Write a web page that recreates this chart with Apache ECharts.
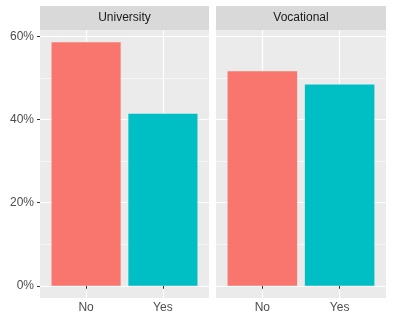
<!doctype html>
<html lang="en">
<head>
<meta charset="UTF-8">
<title>Facet bars</title>
<script src="https://cdn.jsdelivr.net/npm/echarts@6/dist/echarts.min.js"></script>
</head>
<body style="margin:0;background:#fff">
<div id="chart" style="width:393px;height:324px;"></div>
<script type="text/javascript">
// data
const facets = ['University', 'Vocational'];
const answers = ['No', 'Yes'];
const university = [58.6, 41.4];
const vocational = [51.6, 48.4];
const yTicks = [0, 20, 40, 60];
const xTicks = [1, 2];
const fillColors = ['#F8766D', '#00BFC4'];

const panelValues = [university, vocational];
const font = 'Liberation Sans, Arial, sans-serif';

// ggplot-like expansion
const yMax = Math.max(...university, ...vocational);
const yMinExt = -0.05 * yMax;
const yMaxExt = yMax * 1.05;

const panels = [
    {left: 40, width: 169},
    {left: 216, width: 170}
];
const panelTop = 30, panelHeight = 268;

let grids = [], xAxes = [], yAxes = [], series = [], graphics = [];
panels.forEach(function (p, i) {
    grids.push({
        left: p.left, top: panelTop, width: p.width, height: panelHeight,
        show: true, backgroundColor: '#EBEBEB', borderWidth: 0
    });
    xAxes.push({
        type: 'value', gridIndex: i, min: 0.4, max: 2.6,
        minInterval: 1, maxInterval: 1,
        axisLine: {show: false},
        axisTick: {show: true, length: 3, customValues: xTicks, lineStyle: {color: '#333333', width: 1}},
        axisLabel: {
            customValues: xTicks, margin: 4, color: '#4D4D4D', fontSize: 12, fontFamily: font,
            formatter: function (v) { return answers[Math.round(v) - 1] || ''; }
        },
        splitLine: {show: true, lineStyle: {color: '#FFFFFF', width: 1.2}}
    });
    yAxes.push({
        type: 'value', gridIndex: i, min: yMinExt, max: yMaxExt,
        minInterval: 20, maxInterval: 20,
        axisLine: {show: false},
        axisTick: {show: i === 0, length: 3, customValues: yTicks, lineStyle: {color: '#333333', width: 1}},
        axisLabel: {
            show: i === 0, customValues: yTicks, margin: 6, color: '#4D4D4D', fontSize: 12, fontFamily: font,
            formatter: '{value}%'
        },
        splitLine: {show: true, lineStyle: {color: '#FFFFFF', width: 1.2}},
        minorTick: {show: false, splitNumber: 2},
        minorSplitLine: {show: true, lineStyle: {color: '#FFFFFF', width: 0.6}}
    });
    series.push({
        type: 'bar', xAxisIndex: i, yAxisIndex: i,
        barWidth: p.width / 2.2 * 0.9,
        data: panelValues[i].map(function (v, k) {
            return {value: [xTicks[k], v], itemStyle: {color: fillColors[k]}};
        })
    });
    // facet strip
    graphics.push({
        type: 'rect', left: p.left, top: 6,
        shape: {width: p.width, height: 24},
        style: {fill: '#D9D9D9'}
    });
    graphics.push({
        type: 'text', x: p.left + p.width / 2, y: 18,
        style: {text: facets[i], fill: '#1A1A1A', fontSize: 12, fontFamily: font,
            textAlign: 'center', textVerticalAlign: 'middle'}
    });
});

let chart = echarts.init(document.getElementById('chart'));
chart.setOption({
    animation: false,
    backgroundColor: '#FFFFFF',
    grid: grids,
    xAxis: xAxes,
    yAxis: yAxes,
    series: series,
    graphic: graphics
});
</script>
</body>
</html>
